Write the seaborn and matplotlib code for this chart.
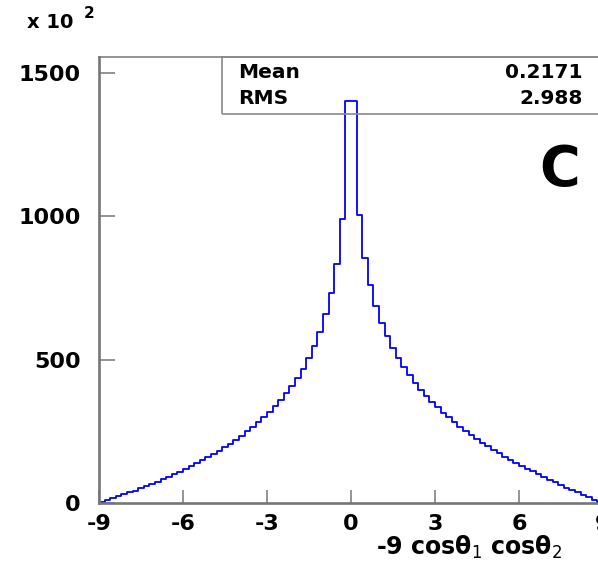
import numpy as np
import pandas as pd
import matplotlib
matplotlib.use("Agg")
import matplotlib.pyplot as plt
from matplotlib.patches import Rectangle
import seaborn as sns

# Histogram of -9 cos(theta1) cos(theta2), 90 bins of width 0.2 on [-9, 9]
# entries per bin, in units of 10^2
counts_neg = [3, 10, 16, 23, 30, 37, 43, 51, 59, 67, 74, 83, 92, 100, 109,
              119, 128, 138, 149, 159, 171, 182, 195, 207, 221, 234, 250, 265,
              282, 299, 318, 339, 360, 383, 409, 437, 468, 504, 546, 596, 657,
              732, 834, 989, 1400]
counts_pos = [1400, 1003, 854, 758, 685, 628, 582, 541, 505, 474, 445, 419,
              395, 374, 353, 333, 315, 298, 282, 266, 252, 237, 224, 210, 198,
              185, 174, 162, 151, 140, 130, 120, 110, 100, 90, 81, 72, 63, 53,
              45, 37, 29, 20, 12, 4]
x_min, x_max, bin_width = -9.0, 9.0, 0.2
x_ticks = [-9, -6, -3, 0, 3, 6, 9]
y_ticks = [0, 500, 1000, 1500]
stat_names = ["Mean", "RMS"]
stat_values = ["0.2171", "2.988"]
x_title = "-9 cosθ$_1$ cosθ$_2$"
panel_tag = "C"

n_bins = int(round((x_max - x_min) / bin_width))
edges = np.linspace(x_min, x_max, n_bins + 1)
centers = 0.5 * (edges[:-1] + edges[1:])
df = pd.DataFrame({"x": centers, "w": counts_neg + counts_pos})

sns.set_style("ticks")
plt.rcParams["font.family"] = ["DejaVu Sans"]
plt.rcParams["mathtext.fontset"] = "dejavusans"
plt.rcParams["text.color"] = "black"
plt.rcParams["xtick.labelcolor"] = "black"
plt.rcParams["ytick.labelcolor"] = "black"

W, H = 598, 562
fig = plt.figure(figsize=(W / 100, H / 100), dpi=100)


def fx(px):
    return px / W


def fy(py):
    return 1 - py / H


ax = fig.add_axes([fx(99), fy(503), (603 - 99) / W, (503 - 57.3) / H])
sns.histplot(data=df, x="x", weights="w", binwidth=bin_width,
             binrange=(x_min, x_max), element="step", fill=False,
             color="#0000ff", linewidth=1.3, ax=ax)

ax.set_xlim(x_min, x_max)
ax.set_ylim(0, 1553)
ax.set_xticks(x_ticks)
ax.set_xticklabels([str(t) for t in x_ticks])
ax.set_yticks(y_ticks)
ax.set_yticklabels([str(t) for t in y_ticks])
ax.set_xlabel("")
ax.set_ylabel("")

axis_grey = "#767676"
for side in ("left", "bottom"):
    ax.spines[side].set_color(axis_grey)
    ax.spines[side].set_linewidth(1.9)
ax.spines["top"].set_visible(True)
ax.spines["top"].set_color(axis_grey)
ax.spines["top"].set_linewidth(1.1)
ax.spines["right"].set_visible(False)

ax.tick_params(axis="x", direction="in", length=9.5, width=1.1,
               color=axis_grey, pad=8, labelsize=16, labelcolor="black")
ax.tick_params(axis="y", direction="in", length=11.5, width=1.1,
               color=axis_grey, pad=13, labelsize=16, labelcolor="black")
for lab in ax.get_xticklabels() + ax.get_yticklabels():
    lab.set_fontweight("bold")

# axis title, right part runs off the canvas
fig.text(fx(376), fy(555), x_title, fontsize=17, fontweight="bold",
         color="black", ha="left", va="baseline")

# exponent of the y axis
fig.text(fx(27), fy(22), "x 10", fontsize=14, fontweight="bold",
         color="black", ha="left", va="center")
fig.text(fx(84), fy(13), "2", fontsize=11, fontweight="bold",
         color="black", ha="left", va="center")

# statistics box
fig.patches.append(Rectangle((fx(222), fy(114.3)), fx(400), (114.3 - 57.3) / H,
                             transform=fig.transFigure, fill=False,
                             edgecolor="#8a8a8a", linewidth=1.2))
for name, value, yc in zip(stat_names, stat_values, [72, 98]):
    fig.text(fx(238), fy(yc), name, fontsize=14.5, fontweight="bold",
             color="black", ha="left", va="center")
    fig.text(fx(583), fy(yc), value, fontsize=14.5, fontweight="bold",
             color="black", ha="right", va="center")

fig.text(fx(539), fy(170), panel_tag, fontsize=40, fontweight="bold",
         color="black", ha="left", va="center")

fig.savefig("out.png", dpi=100)
